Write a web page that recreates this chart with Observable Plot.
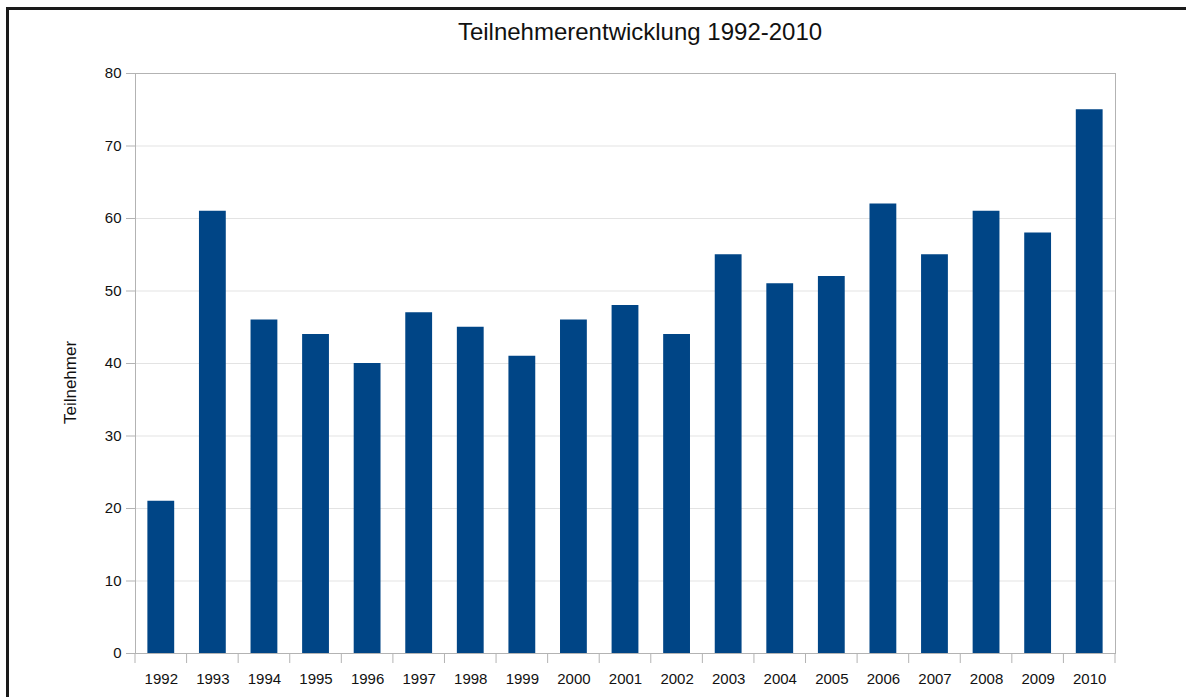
<!DOCTYPE html>
<html>
<head>
<meta charset="utf-8">
<script src="https://cdn.jsdelivr.net/npm/d3@7"></script>
<script src="https://cdn.jsdelivr.net/npm/@observablehq/plot@0.6"></script>
<style>
  html, body { margin: 0; padding: 0; background: #fff; }
  #wrap { position: relative; width: 1186px; height: 697px; overflow: hidden; font-family: "Liberation Sans", Arial, sans-serif; }
  #border { position: absolute; left: 6px; top: 7px; width: 1200px; height: 720px; border-left: 3px solid #1a1a1a; border-top: 3px solid #1a1a1a; box-sizing: border-box; }
  #title { position: absolute; left: 47px; top: 18px; width: 1186px; text-align: center; font-size: 24px; line-height: 28px; color: #111; }
  #chart { position: absolute; left: 0; top: 60px; }
</style>
</head>
<body>
<div id="wrap">
  <div id="border"></div>
  <div id="title"></div>
  <div id="chart"></div>
</div>
<script>
const titleText = "Teilnehmerentwicklung 1992-2010";
const yLabel = "Teilnehmer";
const years = ["1992","1993","1994","1995","1996","1997","1998","1999","2000","2001","2002","2003","2004","2005","2006","2007","2008","2009","2010"];
const participants = [21, 61, 46, 44, 40, 47, 45, 41, 46, 48, 44, 55, 51, 52, 62, 55, 61, 58, 75];
const yTicks = [0, 10, 20, 30, 40, 50, 60, 70, 80];

document.getElementById("title").textContent = titleText;

const data = years.map((y, i) => ({year: y, value: participants[i]}));

const chart = Plot.plot({
  width: 1186,
  height: 637,
  marginTop: 13,
  marginBottom: 44,
  marginLeft: 135,
  marginRight: 71,
  style: {fontFamily: "'Liberation Sans', Arial, sans-serif", fontSize: "15px", color: "#111", background: "transparent"},
  x: {domain: years, paddingInner: 0.48, paddingOuter: 0.24, round: false, label: null},
  y: {domain: [0, 80], label: null},
  marks: [
    Plot.gridY(yTicks, {stroke: "#e3e3e3", strokeOpacity: 1}),
    Plot.barY(data, {x: "year", y: "value", fill: "#004586"}),
    Plot.frame({stroke: "#b3b3b3"}),
    Plot.axisY(yTicks, {tickSize: 9, tickPadding: 5, stroke: "#b3b3b3", fill: "#111", label: null, fontSize: 15}),
    Plot.axisX({tickSize: 0, tickPadding: 20, fill: "#111", label: null, fontSize: 15}),
    Plot.text([yLabel], {frameAnchor: "left", rotate: -90, dx: -65, dy: 19, fontSize: 17, fill: "#111", textAnchor: "middle"})
  ]
});

document.getElementById("chart").appendChild(chart);

// ticks at category boundaries, from the x band scale
const xs = chart.scale("x");
const yScale = chart.scale("y");
const half = (xs.step - xs.bandwidth) / 2;
const bounds = years.map(y => xs.apply(y) - half);
bounds.push(xs.apply(years[years.length - 1]) + xs.bandwidth + half);
const y0 = yScale.apply(0);
d3.select(chart).append("g")
  .attr("stroke", "#b3b3b3")
  .selectAll("line").data(bounds).join("line")
  .attr("x1", d => d).attr("x2", d => d)
  .attr("y1", y0).attr("y2", y0 + 10);
</script>
</body>
</html>
